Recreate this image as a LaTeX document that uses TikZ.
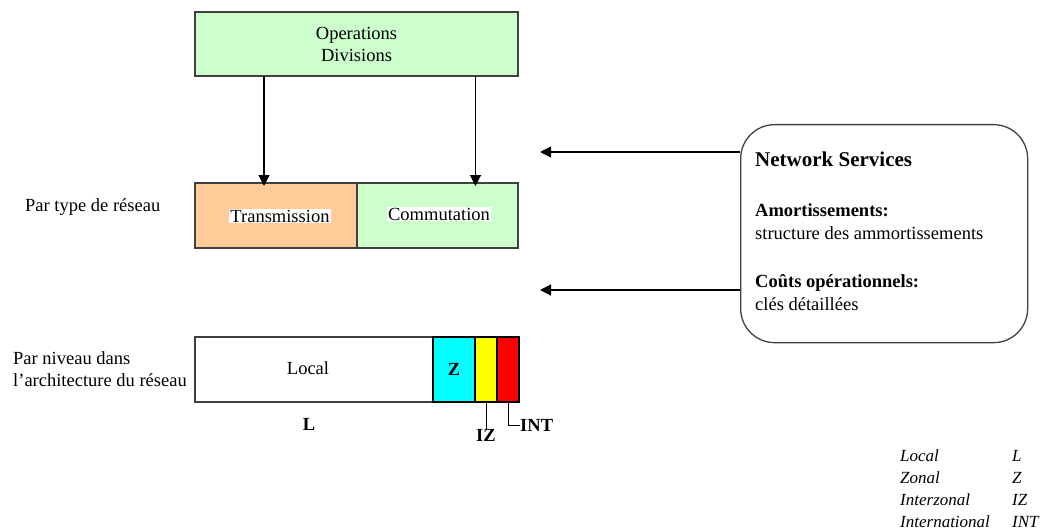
\documentclass[tikz,border=0pt]{standalone}
\usepackage{fontspec}
\setmainfont{Liberation Serif}
\usetikzlibrary{arrows.meta, positioning}
\definecolor{opsgreen}{RGB}{204,255,204}
\definecolor{transpeach}{RGB}{255,204,153}
\definecolor{zonecyan}{RGB}{0,255,255}
\definecolor{izyellow}{RGB}{255,255,0}
\definecolor{intred}{RGB}{255,0,0}
\definecolor{framegray}{RGB}{64,64,64}

\begin{document}
\begin{tikzpicture}[x=1pt, y=-1pt, font=\fontsize{18.5}{22}\selectfont,
    blockbox/.style={draw=framegray, line width=1.3pt, minimum height=65pt, inner sep=0pt, outer sep=0pt, anchor=north west},
    levelbox/.style={blockbox, draw=black, line width=1.6pt},
    arr/.style={-{Triangle[length=11pt,width=11pt]}, line width=1.2pt},
    plain/.style={inner sep=0pt}]
    \useasboundingbox (0,0) rectangle (1044,532);

    % operations block and network split
    \node[blockbox, fill=opsgreen, minimum width=323pt, minimum height=64pt, align=center] (ops) at (195,12) {Operations\\Divisions};
    \node[blockbox, fill=transpeach, minimum width=162pt] (trans) at (195,183) {};
    \node[blockbox, fill=opsgreen, minimum width=161pt] (comm) at (trans.north east) {};
    \node[fill=white, inner sep=1pt] (transtxt) at (280,216) {Transmission};
    \node[fill=white, inner sep=1pt] (commtxt) at (439,214) {Commutation};

    \draw[arr] ([xshift=-12pt]ops.south -| trans.north) -- ([xshift=-12pt,yshift=-3pt]trans.north);
    \draw[arr] ([xshift=38pt]ops.south -| comm.north) -- ([xshift=38pt,yshift=-3pt]comm.north);

    \node[plain, anchor=west] (typelab) at (25,207) {Par type de réseau};

    % network level bar
    \node[blockbox, fill=white, minimum width=238pt] (local) at (195,337) {};
    \node[plain] (localtxt) at (308,368) {Local};
    \node[levelbox, fill=zonecyan, minimum width=42pt] (zone) at (local.north east) {\textbf{Z}};
    \node[levelbox, fill=izyellow, minimum width=22pt] (iz) at (zone.north east) {};
    \node[levelbox, fill=intred, minimum width=22pt] (int) at (iz.north east) {};

    \node[plain, font=\fontsize{18.5}{22}\selectfont\bfseries] (llab) at (309,424) {L};
    \node[plain, anchor=north, font=\fontsize{18.5}{22}\selectfont\bfseries] (izlab) at ([yshift=-27pt]iz.south) {IZ};
    \node[plain, anchor=west, font=\fontsize{18.5}{22}\selectfont\bfseries] (intlab) at ([xshift=12pt,yshift=-23pt]int.south) {INT};
    \draw[line width=1pt] (iz.south) -- ([yshift=-1pt]izlab.north);
    \draw[line width=1pt] (int.south) |- (intlab.west);

    \node[plain, anchor=north west, align=left] (levellab) at (13,351) {Par niveau dans\\l’architecture du réseau};

    % network services box
    \node[draw=framegray, line width=1.3pt, rounded corners=34pt, minimum width=287pt, minimum height=218pt, anchor=north west] (ns) at (740,124) {};
    \node[plain, anchor=base west, font=\fontsize{21}{24}\selectfont\bfseries] (nstitle) at (755,167) {Network Services};
    \node[plain, anchor=base west, font=\fontsize{18.5}{22}\selectfont\bfseries] (amort) at (755,216) {Amortissements:};
    \node[plain, anchor=base west] (amortdesc) at (755,239) {structure des ammortissements};
    \node[plain, anchor=base west, font=\fontsize{18.5}{22}\selectfont\bfseries] (couts) at (755,287) {Coûts opérationnels:};
    \node[plain, anchor=base west] (coutsdesc) at (755,310) {clés détaillées};

    \coordinate (tipA) at (540,152);
    \coordinate (tipB) at (540,290);
    \draw[arr] (ns.west |- tipA) -- (tipA);
    \draw[arr] (ns.west |- tipB) -- (tipB);

    % legend
    \foreach \name/\abbr [count=\i] in {Local/L, Zonal/Z, Interzonal/IZ, International/INT} {
        \node[plain, anchor=base west, font=\fontsize{17}{21}\selectfont\itshape] (leg\i) at (900,439+22*\i) {\name};
        \node[plain, anchor=base west, font=\fontsize{17}{21}\selectfont\itshape] (abbr\i) at (1012,439+22*\i) {\abbr};
    }
\end{tikzpicture}
\end{document}
